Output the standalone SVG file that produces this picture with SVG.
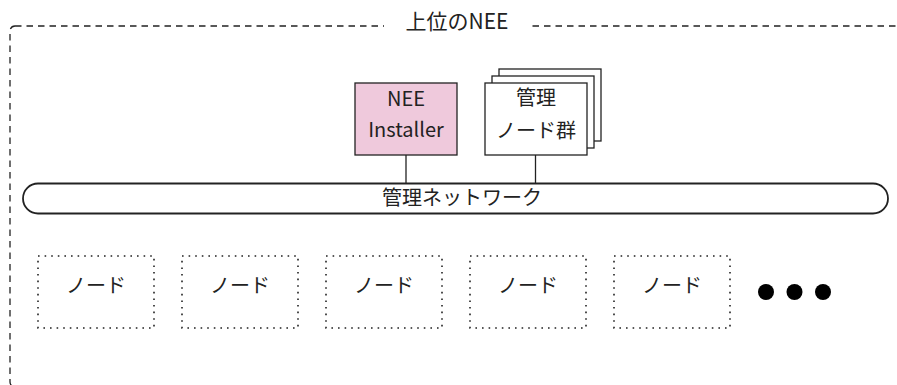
<svg xmlns="http://www.w3.org/2000/svg" width="897" height="385" viewBox="0 0 897 385">
  <style>
    text { font-family: "Noto Sans CJK JP", "Noto Sans", sans-serif; font-size: 20px; fill: #222; text-anchor: middle; }
    .title { font-size: 21px; }
    .outer { fill: none; stroke: #222; stroke-width: 1.3; stroke-dasharray: 6.5 5; }
    .box { stroke: #222; stroke-width: 1.3; }
    .node { fill: #fff; stroke: #222; stroke-width: 1.6; stroke-dasharray: 1.6 5; }
    .bus { fill: #fff; stroke: #222; stroke-width: 1.8; }
    .link { stroke: #222; stroke-width: 1.3; fill: none; }
    .dot { fill: #000; }
  </style>

  <!-- enclosing parent NEE frame (right and bottom edges run past the canvas) -->
  <g id="parent-nee">
    <rect class="outer" x="10" y="26" width="900" height="361" rx="5"/>
    <rect x="384" y="16" width="144" height="20" fill="#fff"/>
    <text class="title" x="457" y="29">上位のNEE</text>
  </g>

  <!-- connectors from the hosts down to the management network -->
  <g id="connectors">
    <line class="link" x1="406" y1="155" x2="406" y2="184"/>
    <line class="link" x1="535.5" y1="155" x2="535.5" y2="184"/>
  </g>

  <g id="mgmt-network">
    <rect class="bus" x="23" y="183.5" width="865" height="30" rx="15"/>
    <text x="462" y="205">管理ネットワーク</text>
  </g>

  <g id="nee-installer">
    <rect class="box" x="355" y="83" width="102" height="72" fill="#efc9dc"/>
    <text x="406" y="106">NEE</text>
    <text x="406" y="137">Installer</text>
  </g>

  <g id="mgmt-nodes">
    <rect class="box" x="499" y="69" width="102" height="72" fill="#fff"/>
    <rect class="box" x="492" y="76" width="102" height="72" fill="#fff"/>
    <rect class="box" x="485" y="83" width="102" height="72" fill="#fff"/>
    <text x="536" y="105">管理</text>
    <text x="536" y="138">ノード群</text>
  </g>

  <g id="node-1">
    <rect class="node" x="38" y="256" width="116" height="72"/>
    <text x="96" y="293">ノード</text>
  </g>
  <g id="node-2">
    <rect class="node" x="182" y="256" width="116" height="72"/>
    <text x="240" y="293">ノード</text>
  </g>
  <g id="node-3">
    <rect class="node" x="326" y="256" width="116" height="72"/>
    <text x="384" y="293">ノード</text>
  </g>
  <g id="node-4">
    <rect class="node" x="470" y="256" width="116" height="72"/>
    <text x="528" y="293">ノード</text>
  </g>
  <g id="node-5">
    <rect class="node" x="614" y="256" width="116" height="72"/>
    <text x="672" y="293">ノード</text>
  </g>

  <g id="ellipsis">
    <circle class="dot" cx="766" cy="292" r="8"/>
    <circle class="dot" cx="794.5" cy="292" r="8"/>
    <circle class="dot" cx="823" cy="292" r="8"/>
  </g>
</svg>
